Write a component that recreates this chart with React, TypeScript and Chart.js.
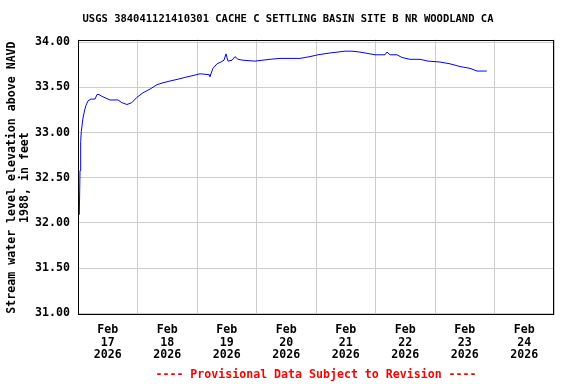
import React, { useEffect, useRef } from "react";
import { Chart, registerables } from "chart.js";

Chart.register(...registerables);

const TITLE = "USGS 384041121410301 CACHE C SETTLING BASIN SITE B NR WOODLAND CA";
const Y_TITLE = ["Stream water level elevation above NAVD", "1988, in feet"];
const FOOTER = "---- Provisional Data Subject to Revision ----";
const MONTH = "Feb";
const YEAR = "2026";
const DAY_LABELS = ["17", "18", "19", "20", "21", "22", "23", "24"];
const Y_TICKS = [31, 31.5, 32, 32.5, 33, 33.5, 34];

// time in days since Feb 17 2026 00:00
const TIME_DAYS = [
  0.022, 0.034, 0.045, 0.055, 0.084, 0.113, 0.134, 0.168, 0.218, 0.286,
  0.319, 0.353, 0.403, 0.471, 0.538, 0.672, 0.739, 0.824, 0.903, 0.992,
  1.092, 1.21, 1.328, 1.429, 1.546, 1.681, 1.798, 1.933, 2.05, 2.202,
  2.218, 2.269, 2.336, 2.403, 2.454, 2.487, 2.521, 2.588, 2.639, 2.689,
  2.773, 2.975, 3.227, 3.395, 3.731, 3.899, 4.034, 4.235, 4.487, 4.605,
  4.739, 4.908, 4.992, 5.16, 5.193, 5.244, 5.361, 5.445, 5.58, 5.748,
  5.882, 6.084, 6.252, 6.42, 6.588, 6.706, 6.869,
];
const ELEVATION_FT = [
  32.09, 32.58, 32.9, 33.01, 33.16, 33.25, 33.3, 33.35, 33.37, 33.37,
  33.42, 33.42, 33.4, 33.38, 33.36, 33.36, 33.33, 33.31, 33.33, 33.39,
  33.44, 33.48, 33.53, 33.55, 33.57, 33.59, 33.61, 33.63, 33.65, 33.64,
  33.62, 33.71, 33.76, 33.78, 33.8, 33.87, 33.79, 33.8, 33.84, 33.81,
  33.8, 33.79, 33.81, 33.82, 33.82, 33.84, 33.86, 33.88, 33.9, 33.9,
  33.89, 33.87, 33.86, 33.86, 33.89, 33.86, 33.86, 33.83, 33.81, 33.81,
  33.79, 33.78, 33.76, 33.73, 33.71, 33.68, 33.68,
];

const FONT_FAMILY = "'DejaVu Sans Mono', 'Liberation Mono', monospace";

const framePlugin = {
  id: "frame",
  afterDraw(chart: any) {
    const { ctx, chartArea } = chart;
    ctx.save();
    ctx.strokeStyle = "#000000";
    ctx.lineWidth = 1;
    const l = Math.round(chartArea.left) + 0.5;
    const t = Math.round(chartArea.top) + 0.5;
    const r = Math.round(chartArea.right) - 0.5;
    const b = Math.round(chartArea.bottom) - 0.5;
    ctx.strokeRect(l, t, r - l, b - t);
    ctx.restore();
  },
};

export default function App() {
  const canvasRef = useRef<HTMLCanvasElement | null>(null);

  useEffect(() => {
    const canvas = canvasRef.current;
    if (!canvas) return;
    const points = TIME_DAYS.map((d, i) => ({ x: d, y: ELEVATION_FT[i] }));
    const xTickValues: number[] = [];
    for (let i = 0; i <= DAY_LABELS.length * 2; i++) xTickValues.push(i / 2);

    const chart = new Chart(canvas, {
      type: "line",
      data: {
        datasets: [
          {
            data: points,
            borderColor: "#0000ff",
            borderWidth: 1,
            pointRadius: 0,
            tension: 0,
            fill: false,
          },
        ],
      },
      plugins: [framePlugin],
      options: {
        animation: false,
        responsive: false,
        devicePixelRatio: 1,
        layout: { padding: 0 },
        plugins: {
          legend: { display: false },
          tooltip: { enabled: false },
          title: {
            display: true,
            text: TITLE,
            color: "#000000",
            font: { family: FONT_FAMILY, size: 10.5, weight: "bold", lineHeight: 1.2 },
            padding: { top: 13, bottom: 14 },
          },
          subtitle: {
            display: true,
            position: "bottom",
            fullSize: false,
            text: FOOTER,
            color: "#ff0000",
            font: { family: FONT_FAMILY, size: 11.6, weight: "bold", lineHeight: 1.2 },
            padding: { top: 4, bottom: 2 },
          },
        },
        scales: {
          x: {
            type: "linear",
            min: 0,
            max: 8,
            afterBuildTicks: (scale: any) => {
              scale.ticks = xTickValues.map((v) => ({ value: v }));
            },
            afterFit: (scale: any) => {
              scale.height = 48.6;
            },
            grid: {
              drawTicks: false,
              color: (ctx: any) =>
                ctx.tick && Number.isInteger(ctx.tick.value) ? "#cccccc" : "rgba(0,0,0,0)",
              lineWidth: 1,
            },
            border: { display: false },
            ticks: {
              autoSkip: false,
              maxRotation: 0,
              minRotation: 0,
              padding: 8,
              color: "#000000",
              font: { family: FONT_FAMILY, size: 11.6, weight: "bold", lineHeight: 1.1 },
              callback: (value: any) => {
                const v = Number(value);
                if (Number.isInteger(v)) return "";
                const idx = Math.floor(v);
                return [MONTH, DAY_LABELS[idx], YEAR];
              },
            },
          },
          y: {
            type: "linear",
            min: 30.976,
            max: 34.028,
            afterBuildTicks: (scale: any) => {
              scale.ticks = Y_TICKS.map((v) => ({ value: v }));
            },
            afterFit: (scale: any) => {
              scale.width = 78;
            },
            grid: { drawTicks: false, color: "#cccccc", lineWidth: 1 },
            border: { display: false },
            ticks: {
              padding: 8,
              color: "#000000",
              font: { family: FONT_FAMILY, size: 11.6, weight: "bold" },
              callback: (value: any) => Number(value).toFixed(2),
            },
            title: {
              display: true,
              text: Y_TITLE,
              color: "#000000",
              font: { family: FONT_FAMILY, size: 11.6, weight: "bold", lineHeight: 1.1 },
              padding: { top: 5.6, bottom: 0 },
            },
          },
          yRightSpacer: {
            type: "linear",
            position: "right",
            display: true,
            min: 30.976,
            max: 34.028,
            afterFit: (scale: any) => {
              scale.width = 22;
            },
            grid: { display: false, drawTicks: false },
            border: { display: false },
            ticks: { display: false },
          },
        },
      },
    } as any);

    return () => chart.destroy();
  }, []);

  return (
    <div style={{ position: "absolute", left: 0, top: 0, width: 576, height: 384, background: "#ffffff" }}>
      <canvas ref={canvasRef} width={576} height={384} style={{ width: 576, height: 384 }} />
    </div>
  );
}
